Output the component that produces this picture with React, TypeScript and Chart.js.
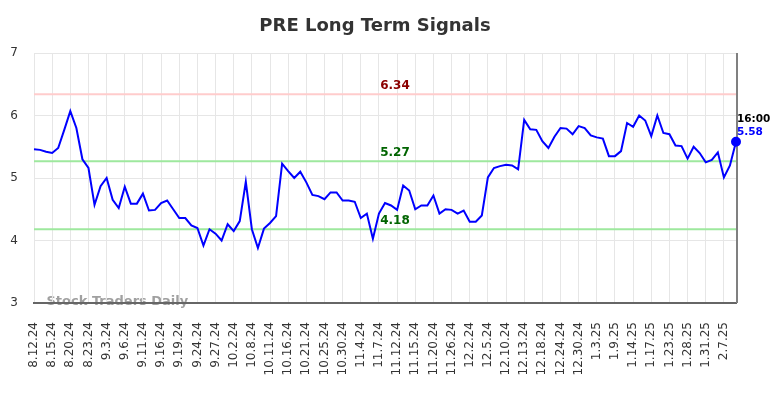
import { useEffect, useRef } from "react";
import { Chart, registerables } from "chart.js";

Chart.register(...registerables);

const chartTitle = "PRE Long Term Signals";
const watermarkText = "Stock Traders Daily";
const lastTimeLabel = "16:00";

const dates = [
  "8.12.24", "8.13.24", "8.14.24",
  "8.15.24", "8.16.24", "8.19.24",
  "8.20.24", "8.21.24", "8.22.24",
  "8.23.24", "8.26.24", "8.28.24",
  "9.3.24", "9.4.24", "9.5.24",
  "9.6.24", "9.9.24", "9.10.24",
  "9.11.24", "9.12.24", "9.13.24",
  "9.16.24", "9.17.24", "9.18.24",
  "9.19.24", "9.20.24", "9.23.24",
  "9.24.24", "9.25.24", "9.26.24",
  "9.27.24", "9.30.24", "10.1.24",
  "10.2.24", "10.3.24", "10.7.24",
  "10.8.24", "10.9.24", "10.10.24",
  "10.11.24", "10.14.24", "10.15.24",
  "10.16.24", "10.17.24", "10.18.24",
  "10.21.24", "10.22.24", "10.24.24",
  "10.25.24", "10.28.24", "10.29.24",
  "10.30.24", "10.31.24", "11.1.24",
  "11.4.24", "11.5.24", "11.6.24",
  "11.7.24", "11.8.24", "11.11.24",
  "11.12.24", "11.13.24", "11.14.24",
  "11.15.24", "11.18.24", "11.19.24",
  "11.20.24", "11.21.24", "11.25.24",
  "11.26.24", "11.27.24", "11.29.24",
  "12.2.24", "12.3.24", "12.4.24",
  "12.5.24", "12.6.24", "12.9.24",
  "12.10.24", "12.11.24", "12.12.24",
  "12.13.24", "12.16.24", "12.17.24",
  "12.18.24", "12.19.24", "12.23.24",
  "12.24.24", "12.26.24", "12.27.24",
  "12.30.24", "12.31.24", "1.2.25",
  "1.3.25", "1.6.25", "1.8.25",
  "1.9.25", "1.10.25", "1.13.25",
  "1.14.25", "1.15.25", "1.16.25",
  "1.17.25", "1.21.25", "1.22.25",
  "1.23.25", "1.24.25", "1.27.25",
  "1.28.25", "1.29.25", "1.30.25",
  "1.31.25", "2.3.25", "2.6.25",
  "2.7.25", "2.10.25", "2.11.25",
];

const prices = [
  5.46, 5.45, 5.42, 5.40, 5.48, 5.77, 6.07, 5.80, 5.30, 5.16,
  4.57, 4.87, 5.00, 4.65, 4.52, 4.86, 4.59, 4.59, 4.75, 4.48,
  4.49, 4.60, 4.64, 4.50, 4.36, 4.36, 4.24, 4.20, 3.92, 4.18,
  4.11, 4.00, 4.26, 4.15, 4.31, 4.94, 4.18, 3.88, 4.19, 4.28,
  4.39, 5.23, 5.11, 5.00, 5.10, 4.93, 4.73, 4.71, 4.66, 4.77,
  4.77, 4.64, 4.64, 4.62, 4.36, 4.43, 4.03, 4.43, 4.60, 4.56,
  4.49, 4.88, 4.80, 4.50, 4.56, 4.56, 4.72, 4.43, 4.50, 4.49,
  4.43, 4.48, 4.30, 4.30, 4.40, 5.01, 5.16, 5.19, 5.21, 5.20,
  5.14, 5.93, 5.78, 5.77, 5.59, 5.48, 5.66, 5.80, 5.79, 5.70,
  5.83, 5.80, 5.68, 5.65, 5.63, 5.35, 5.35, 5.43, 5.88, 5.82,
  6.00, 5.92, 5.67, 6.00, 5.72, 5.70, 5.52, 5.51, 5.31, 5.50,
  5.40, 5.25, 5.29, 5.41, 5.01, 5.20, 5.58,
];

const signalLevels = [6.34, 5.27, 4.18];
const signalLineColors = ["#ffcccc", "#9ee89e", "#9ee89e"];
const signalTextColors = ["#8b0000", "#006400", "#006400"];

const yMin = 3;
const yMax = 7;
const labelEvery = 3;

const FONT = "'DejaVu Sans', sans-serif";

const overlayPlugin = {
  id: "overlay",
  beforeDraw(chart: any) {
    const { ctx, chartArea } = chart;
    ctx.save();
    ctx.font = `bold 18px ${FONT}`;
    ctx.fillStyle = "#333333";
    ctx.textAlign = "center";
    ctx.textBaseline = "alphabetic";
    ctx.fillText(chartTitle, (chartArea.left + chartArea.right) / 2 - 10, chartArea.top - 22);
    ctx.font = `bold 13px ${FONT}`;
    ctx.fillStyle = "rgba(150,150,150,0.9)";
    ctx.textAlign = "left";
    ctx.textBaseline = "middle";
    ctx.fillText(watermarkText, chartArea.left + 12.5, chartArea.bottom - 1);
    ctx.restore();
  },
  beforeDatasetsDraw(chart: any) {
    const { ctx, chartArea, scales } = chart;
    const y = scales.y;
    const x = scales.x;
    ctx.save();
    signalLevels.forEach((lvl, i) => {
      const py = y.getPixelForValue(lvl);
      ctx.strokeStyle = signalLineColors[i];
      ctx.lineWidth = 2;
      ctx.beginPath();
      ctx.moveTo(chartArea.left, py);
      ctx.lineTo(chartArea.right, py);
      ctx.stroke();
    });
    const lx = x.getPixelForValue(prices.length - 1);
    ctx.strokeStyle = "#808080";
    ctx.lineWidth = 2;
    ctx.beginPath();
    ctx.moveTo(lx + 1, chartArea.top);
    ctx.lineTo(lx + 1, chartArea.bottom);
    ctx.stroke();
    ctx.restore();
  },
  afterDatasetsDraw(chart: any) {
    const { ctx, chartArea, scales } = chart;
    const y = scales.y;
    const x = scales.x;
    ctx.save();
    ctx.textAlign = "center";
    ctx.textBaseline = "middle";
    ctx.font = `bold 12px ${FONT}`;
    const cx = (chartArea.left + chartArea.right) / 2 + 10;
    signalLevels.forEach((lvl, i) => {
      const py = y.getPixelForValue(lvl);
      ctx.fillStyle = signalTextColors[i];
      ctx.fillText(lvl.toFixed(2), cx, py - 8);
    });
    const last = prices.length - 1;
    const px = x.getPixelForValue(last);
    const py = y.getPixelForValue(prices[last]);
    ctx.textAlign = "left";
    ctx.font = `bold 10.5px ${FONT}`;
    ctx.fillStyle = "#000000";
    ctx.fillText(lastTimeLabel, px + 1, py - 22.5);
    ctx.fillStyle = "#0000ff";
    ctx.fillText(prices[last].toFixed(2), px + 1, py - 9.5);
    ctx.restore();
  },
};

export default function App() {
  const canvasRef = useRef<HTMLCanvasElement | null>(null);

  useEffect(() => {
    if (!canvasRef.current) return;
    Chart.defaults.font.family = FONT;
    const lastIndex = prices.length - 1;
    const chart = new Chart(canvasRef.current, {
      type: "line",
      data: {
        labels: dates,
        datasets: [
          {
            data: prices,
            borderColor: "#0000ff",
            backgroundColor: "#0000ff",
            borderWidth: 2,
            tension: 0,
            fill: false,
            pointRadius: (c: any) => (c.dataIndex === lastIndex ? 4 : 0),
            pointHoverRadius: 0,
            pointBackgroundColor: "#0000ff",
            pointBorderColor: "#0000ff",
          },
        ],
      },
      options: {
        animation: false,
        responsive: true,
        maintainAspectRatio: false,
        layout: { padding: { left: 0, right: 48, top: 53, bottom: 0 } },
        plugins: {
          legend: { display: false },
          tooltip: { enabled: false },
          title: { display: false },
        },
        scales: {
          x: {
            type: "category",
            grid: { color: "#e6e6e6", drawTicks: false },
            border: { color: "#666666", width: 2 },
            ticks: {
              autoSkip: false,
              maxRotation: 90,
              minRotation: 90,
              color: "#333333",
              font: { size: 12, family: FONT },
              padding: 19,
              callback: (_v: any, i: number) => (i % labelEvery === 0 ? dates[i] : null),
            },
            afterFit: (s: any) => {
              s.height = 95;
              s.paddingLeft = 0;
              s.paddingRight = 0;
            },
          },
          y: {
            min: yMin,
            max: yMax,
            grid: { color: "#e6e6e6", drawTicks: false },
            border: { display: false },
            ticks: {
              stepSize: 1,
              color: "#333333",
              font: { size: 12, family: FONT },
              padding: 16,
            },
            afterFit: (s: any) => {
              s.width = 34;
              s.paddingTop = 0;
              s.paddingBottom = 0;
            },
          },
        },
      },
      plugins: [overlayPlugin],
    });
    return () => chart.destroy();
  }, []);

  return (
    <div style={{ position: "absolute", left: 0, top: 0, width: 784, height: 398 }}>
      <canvas ref={canvasRef} />
    </div>
  );
}
